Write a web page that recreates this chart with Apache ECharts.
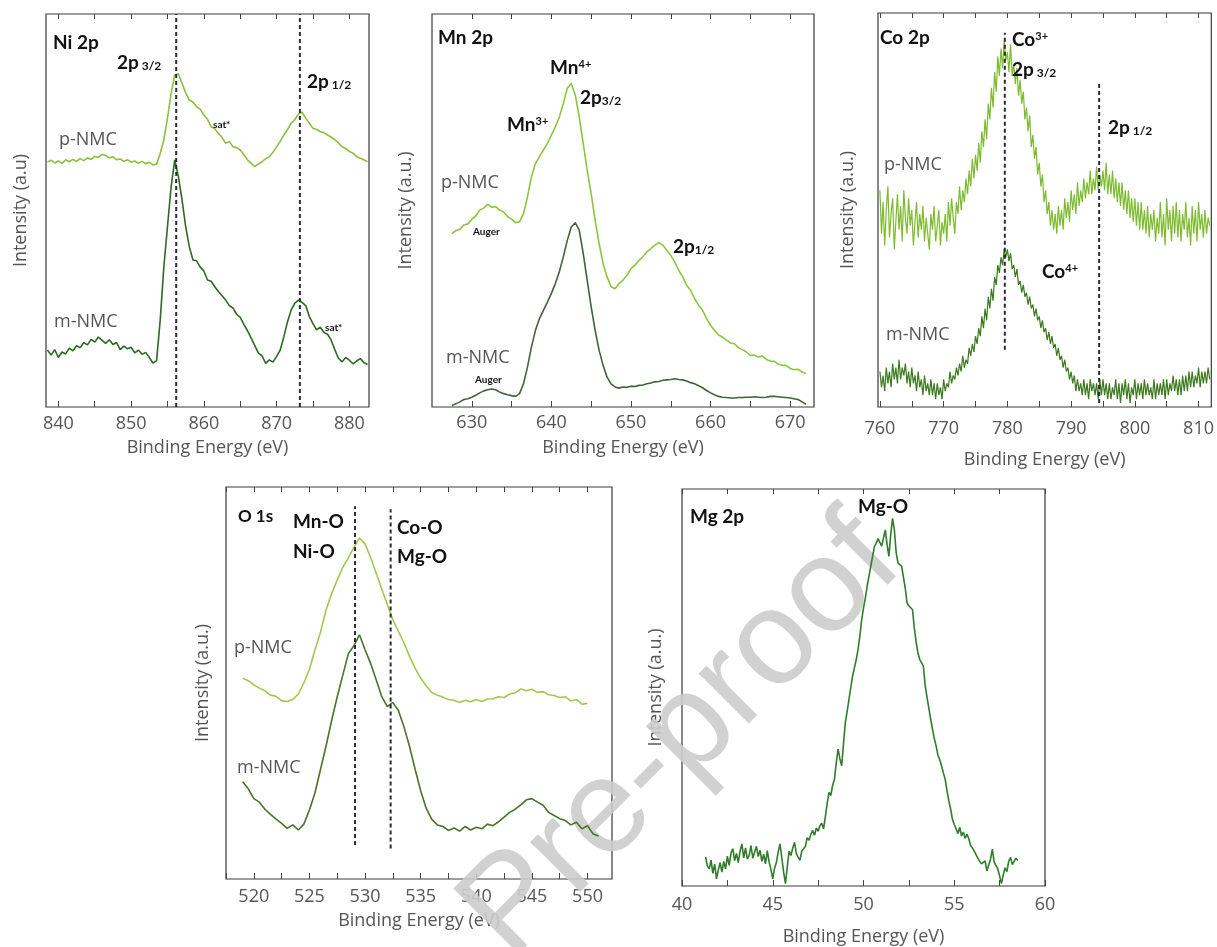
<!DOCTYPE html>
<html><head><meta charset="utf-8">
<script src="https://cdn.jsdelivr.net/npm/echarts/dist/echarts.min.js"></script>
<style>html,body{margin:0;padding:0;background:#fff}#c{width:1217px;height:947px}</style>
</head><body><div id="c"></div><script>
// ---------- DATA ----------
// Ni 2p (binding energy grid start/step in eV)
const niStart = 838.5, niStep = 0.5;
const niP = [62.3,62.8,62.1,62.6,62.0,62.9,62.4,63.0,62.5,63.2,62.7,63.4,63.0,63.8,63.5,64.3,64.0,63.4,63.7,62.9,63.1,62.5,62.9,62.3,62.6,62.0,62.5,61.9,62.3,61.6,61.8,
 64.5,68.0,73.5,79.8,84.5,84.8,82.4,80.0,78.1,77.6,76.4,75.8,74.3,73.2,71.3,70.8,69.6,68.6,67.1,67.6,66.2,66.0,65.4,64.2,62.9,62.0,61.2,61.8,62.4,63.2,63.7,64.8,66.2,67.6,69.2,70.6,72.2,73.1,74.6,75.0,73.5,72.2,70.9,70.6,70.1,69.8,69.2,68.7,68.0,67.2,66.2,65.8,65.0,64.6,63.7,63.3,62.9,62.4];
const niM = [14.5,13.2,14.6,12.6,14.0,13.5,15.0,14.3,15.6,15.1,16.4,15.8,17.2,16.5,17.8,17.0,16.2,17.1,15.9,16.4,14.6,15.5,14.8,15.2,13.8,14.5,13.4,13.9,12.6,11.2,11.8,
 22.1,35.7,45.9,56.1,62.9,58.6,52.7,45.9,40.8,37.4,37.2,35.6,34.6,32.3,32.0,30.6,29.4,28.3,27.2,25.8,25.2,23.6,22.8,21.0,19.4,17.5,15.6,13.7,13.0,11.1,12.0,11.4,12.9,14.5,17.9,21.7,24.7,26.4,27.2,26.6,25.8,23.0,21.2,19.6,20.3,19.0,18.5,17.0,14.6,12.4,11.5,12.6,11.9,11.0,11.7,12.3,11.3,10.8];
const niDash = [856.2, 873.2];
const niDashY = [[0,100],[0,100]];
const niLabels = [840,850,860,870,880];
const niMinor = [845,855,865,875];

// Mn 2p
const mnStart = 627.5, mnStep = 0.5;
const mnP = [44.1,44.9,45.2,46.3,46.6,47.8,48.6,50.1,50.6,51.6,50.8,51.0,50.1,49.6,48.4,47.8,46.9,47.1,49.2,53.5,58.6,62.0,63.7,65.4,67.1,69.2,71.3,73.8,77.2,81.1,82.3,79.4,73.8,67.1,60.3,54.3,47.5,41.6,36.5,33.1,30.6,30.1,31.4,32.3,33.5,35.2,36.1,37.3,38.2,39.5,40.3,41.2,41.8,41.2,39.9,38.6,36.9,34.8,33.1,31.0,29.7,27.6,25.9,24.6,22.5,20.8,19.5,18.3,17.8,17.0,16.3,16.1,15.1,14.6,14.0,13.1,13.2,12.7,13.0,12.1,11.7,11.6,10.9,10.6,10.6,9.8,9.5,9.6,8.9,8.5];
const mnM = [0.4,0.8,1.3,1.9,2.1,2.5,3.0,3.6,4.1,4.4,4.6,4.4,3.8,3.4,3.1,2.9,2.7,3.4,5.9,10.2,15.3,19.5,22.5,24.6,26.7,28.9,31.4,34.4,38.2,42.4,45.8,46.9,45.0,39.1,32.3,25.5,19.5,14.4,10.6,7.6,5.9,5.1,4.8,5.1,5.0,5.3,5.2,5.5,5.6,5.9,6.1,6.4,6.5,6.8,6.9,7.0,7.2,7.0,6.9,6.6,6.2,5.9,5.4,4.9,4.2,3.6,3.1,2.7,2.5,2.4,2.3,2.3,2.4,2.4,2.5,2.5,2.6,2.5,2.4,2.5,2.7,2.7,2.6,2.5,2.4,2.3,2.1,1.9,1.3,0.7];
const mnLabels = [630,640,650,660,670];
const mnMinor = [635,645,655,665];

// Co 2p
const coStart = 760, coStep = 0.25;
const coP = [
 55,44,52,41, 50,56,43,49, 53,40,47,54, 45,51,42,55, 48,44,53,46, 50,41,47,52, 43,49,45,51, 42,48,44,40,
 49,45,51,42, 46,50,41,47, 44,49,42,52, 46,53,48,44, 52,49,56,50, 55,52,58,54, 60,56,63,58, 64,60,67,62,
 70,66,73,68, 77,73,81,76, 85,80,89,84, 91,86,93,88, 90,85,92,84, 87,82,86,79, 83,77,80,73, 76,70,74,66,
 69,63,66,59, 62,56,59,52, 55,49,52,46, 50,45,49,44, 51,46,50,45, 53,48,52,47, 55,50,54,49, 57,51,55,52,
 58,53,57,54, 60,54,58,55, 61,55,59,56, 60,55,62,54, 59,54,60,53, 58,52,57,51, 57,50,55,49, 55,48,53,47,
 53,46,52,45, 52,45,50,44, 51,43,49,45, 50,42,48,44, 52,43,49,41, 53,45,50,42, 51,44,52,43, 50,42,49,45,
 52,43,48,41, 51,44,50,42, 52,45,49,43, 50,44,48,46];
const coM = [
 9,5,8,4, 10,6,9,5, 11,7,10,6, 12,7,10,8, 11,6,9,5, 10,6,8,4, 9,5,7,3, 8,4,6,3,
 7,3,6,2, 6,3,5,2, 7,4,6,5, 9,6,8,7, 10,8,11,9, 13,10,12,11, 15,13,16,14, 18,16,20,18,
 23,20,25,22, 28,25,30,27, 33,31,36,34, 38,36,40,38, 40,37,39,35, 36,33,35,31, 32,29,31,28, 29,26,28,25,
 26,23,25,22, 23,20,22,19, 20,17,19,16, 18,15,16,13, 15,12,13,10, 12,9,10,7, 9,6,8,4, 7,4,6,3,
 7,3,6,2, 7,4,6,3, 6,2,7,3, 7,3,6,2, 6,2,5,3, 7,2,6,1, 6,3,7,2, 6,1,5,3,
 7,2,6,3, 6,2,7,3, 6,3,5,2, 7,2,6,3, 6,3,7,2, 7,3,6,4, 8,4,7,3, 7,3,8,4,
 8,4,9,5, 9,5,8,6, 10,5,9,6, 9,6,10,7];
const coDash = [779.6, 794.4];
const coDashY = [[14.5,95],[1,82]];
const coLabels = [760,770,780,790,800,810];
const coMinor = [765,775,785,795,805];

// O 1s
const oStart = 519, oStep = 0.5;
const oP = [51.2,50.6,49.5,48.7,48.0,46.9,46.6,45.5,45.3,45.8,47.2,50.0,53.5,58.5,63.0,68.7,72.8,76.3,79.5,82.0,84.6,87.0,85.5,82.0,78.0,74.0,70.0,66.1,63.2,60.2,56.8,53.8,51.2,49.3,47.6,46.9,46.4,45.8,45.6,45.0,45.6,45.2,45.8,45.3,45.9,46.0,46.5,46.3,47.2,47.5,48.5,48.0,48.4,47.6,47.8,47.0,46.8,46.3,46.5,45.4,45.8,44.6,44.8];
const oM = [24.8,23.0,20.5,19.6,17.8,16.5,15.3,14.2,12.9,13.8,12.5,14.0,17.6,22.0,28.0,34.0,40.5,46.5,52.0,57.5,59.5,62.3,58.5,55.0,50.8,46.5,44.0,45.0,43.0,38.8,33.8,28.0,22.5,18.0,15.2,13.8,13.4,12.4,13.0,12.2,13.4,12.5,13.2,12.8,14.0,13.6,14.6,15.8,17.0,17.8,18.9,20.2,20.5,19.6,18.8,17.0,16.2,15.4,14.9,13.8,14.5,12.8,13.6,11.5,11.0];
const oDash = [529.1, 532.3];
const oDashY = [[8.7,95.1],[7.8,94.3]];
const oLabels = [520,525,530,535,540,545,550];
const oMinor = [517.5,522.5,527.5,532.5,537.5,542.5,547.5];

// Mg 2p
const mgStart = 41.3, mgStep = 0.1;
const mgI = [7.3,5.0,4.3,6.5,3.2,5.5,1.8,4.0,5.9,3.5,6.2,4.3,7.5,5.2,8.3,9.4,6.4,8.2,5.9,8.8,10.6,7.1,9.6,6.8,7.7,10.2,7.0,8.5,10.0,7.4,9.0,6.2,8.0,5.6,8.9,6.0,4.2,1.8,4.5,5.9,8.6,10.6,7.0,3.5,0.6,4.8,8.8,7.7,9.5,11.0,8.2,7.2,6.5,8.8,9.4,10.0,12.2,11.5,13.0,14.0,12.8,14.6,13.8,15.2,15.8,14.4,17.5,20.8,23.6,22.8,25.4,26.9,31.0,34.5,32.0,30.3,36.0,41.2,44.0,47.0,50.0,52.9,55.0,57.0,59.6,63.0,67.1,70.0,72.5,75.5,78.0,80.5,83.0,85.5,86.3,87.5,88.0,85.6,87.6,89.7,86.0,83.0,88.5,92.6,89.7,84.0,81.3,81.0,80.6,80.1,75.0,71.3,70.6,70.2,69.6,65.0,61.5,58.7,57.0,56.2,55.4,50.4,47.5,44.8,42.0,39.6,37.2,35.3,33.0,31.8,30.3,28.5,26.9,24.0,21.5,19.4,16.8,15.5,14.4,13.2,14.8,12.6,13.6,12.0,13.1,11.9,10.2,9.6,8.8,8.5,7.0,6.2,5.6,5.2,6.3,3.8,4.3,6.8,9.3,6.0,5.5,4.3,2.5,0.6,2.8,4.6,3.6,6.2,7.2,5.4,5.2,7.0,6.4];
const mgLabels = [40,45,50,55,60];
const mgMinor = [42.5,47.5,52.5,57.5];

// ---------- CHART ----------
const FONT = 'Lato';
const AFONT = 'Open Sans';
function pts(start, step, vals) { return vals.map((v, i) => [Math.round((start + i * step) * 100) / 100, v]); }

const grids = [
  {left: 46, top: 14, width: 323, height: 393},
  {left: 432, top: 14, width: 382, height: 393},
  {left: 878, top: 13, width: 334, height: 394},
  {left: 226, top: 487, width: 386, height: 392},
  {left: 682, top: 489, width: 363, height: 398}
].map(g => Object.assign({show: true, borderColor: '#3a3a3a', borderWidth: 1.2, backgroundColor: 'transparent'}, g));

function xAxes(gi, min, max, labels, minor, gap, margin) {
  const ticks = labels.concat(minor).filter(v => v >= min && v <= max);
  return [
    {type: 'value', gridIndex: gi, position: 'bottom', min, max,
     name: 'Binding Energy (eV)', nameLocation: 'middle', nameGap: gap,
     nameTextStyle: {fontFamily: AFONT, fontSize: 18, color: '#555'},
     axisLine: {show: false},
     axisTick: {inside: true, length: 6, customValues: ticks, lineStyle: {color: '#444', width: 1}},
     axisLabel: {customValues: labels, margin, fontFamily: AFONT, fontSize: 18, color: '#555'},
     splitLine: {show: false}},
    {type: 'value', gridIndex: gi, position: 'top', min, max,
     axisLine: {show: false},
     axisTick: {inside: true, length: 5, customValues: ticks, lineStyle: {color: '#444', width: 1}},
     axisLabel: {show: false}, splitLine: {show: false}}
  ];
}
function yAxis(gi, name, gap) {
  return {type: 'value', gridIndex: gi, min: 0, max: 100, name, nameLocation: 'middle', nameGap: gap,
    nameTextStyle: {fontFamily: AFONT, fontSize: 18, color: '#555'},
    axisLine: {show: false}, axisTick: {show: false}, axisLabel: {show: false}, splitLine: {show: false}};
}

const xAxis = [].concat(
  xAxes(0, 838.3, 882.7, niLabels, niMinor, 32, 8),
  xAxes(1, 625, 673, mnLabels, mnMinor, 32, 7),
  xAxes(2, 759.7, 812, coLabels, coMinor, 44, 13),
  xAxes(3, 517.5, 552.2, oLabels, oMinor, 33, 9),
  xAxes(4, 40, 60, mgLabels, mgMinor, 42, 10)
);
const yAxisArr = [
  yAxis(0, 'Intensity (a.u)', 16),
  yAxis(1, 'Intensity (a.u.)', 17),
  yAxis(2, 'Intensity (a.u.)', 21),
  yAxis(3, 'Intensity (a.u.)', 14),
  yAxis(4, 'Intensity (a.u.)', 17)
];

function line(gi, data, color, width) {
  return {type: 'line', xAxisIndex: gi * 2, yAxisIndex: gi, data, showSymbol: false, symbol: 'none',
    silent: true, animation: false, lineStyle: {color, width: width || 1.6}, z: 3};
}
function dashes(gi, xs, ys) {
  return xs.map((x, k) => ({type: 'line', xAxisIndex: gi * 2, yAxisIndex: gi,
    data: [[x, ys[k][0]], [x, ys[k][1]]], showSymbol: false, symbol: 'none', silent: true, animation: false,
    lineStyle: {color: '#2b2b3b', width: 2, type: [4, 3]}, z: 4}));
}

const series = [
  line(0, pts(niStart, niStep, niP), '#88c23a'),
  line(0, pts(niStart, niStep, niM), '#2c6b1f'),
  ...dashes(0, niDash, niDashY),
  line(1, pts(mnStart, mnStep, mnP), '#8cc63f'),
  line(1, pts(mnStart, mnStep, mnM), '#41633a'),
  line(2, pts(coStart, coStep, coP), '#7dbb2e', 1.2),
  line(2, pts(coStart, coStep, coM), '#3c7a1e', 1.2),
  ...dashes(2, coDash, coDashY),
  line(3, pts(oStart, oStep, oP), '#9dcb4e'),
  line(3, pts(oStart, oStep, oM), '#4a7428'),
  ...dashes(3, oDash, oDashY),
  line(4, pts(mgStart, mgStep, mgI), '#2f7d2a', 1.6)
];

const rich = {
  b: {fontFamily: FONT, fontWeight: 'bold', fontSize: 19, fill: '#111'},
  sub: {fontFamily: FONT, fontWeight: 'bold', fontSize: 12, fill: '#111', verticalAlign: 'bottom'},
  sup: {fontFamily: FONT, fontWeight: 'bold', fontSize: 11, fill: '#111', verticalAlign: 'top'},
  s: {fontFamily: AFONT, fontSize: 18, fill: '#555'},
  t: {fontFamily: FONT, fontWeight: 'bold', fontSize: 10, fill: '#111'},
  o: {fontFamily: FONT, fontWeight: 'bold', fontSize: 17, fill: '#111'}
};
function T(x, y, text) {
  return {type: 'text', x, y, z: 100, silent: true,
    style: {text, rich, align: 'left', textAlign: 'left', verticalAlign: 'middle', textVerticalAlign: 'middle'}};
}
const graphic = [
  {type: 'text', x: 682, y: 738, rotation: Math.PI / 4, z: 1, silent: true,
   style: {text: 'Pre-proof', font: '134px "Liberation Sans"', fill: '#cccccc', opacity: 0.9,
     align: 'center', textAlign: 'center', verticalAlign: 'middle', textVerticalAlign: 'middle'}},
  // Ni
  T(53, 43, '{b|Ni 2p}'),
  T(117, 63, '{b|2p}{sub| 3/2}'),
  T(307, 82, '{b|2p}{sub| 1/2}'),
  T(213, 125, '{t|sat*}'),
  T(59, 140, '{s|p-NMC}'),
  T(54, 322, '{s|m-NMC}'),
  T(325, 328, '{t|sat*}'),
  // Mn
  T(438, 38, '{b|Mn 2p}'),
  T(550, 68, '{b|Mn}{sup|4+}'),
  T(580, 98, '{b|2p}{sub|3/2}'),
  T(507, 125, '{b|Mn}{sup|3+}'),
  T(441, 183, '{s|p-NMC}'),
  T(473, 232, '{t|Auger}'),
  T(673, 247, '{b|2p}{sub|1/2}'),
  T(446, 358, '{s|m-NMC}'),
  T(475, 380, '{t|Auger}'),
  // Co
  T(880, 38, '{b|Co 2p}'),
  T(1012, 40, '{b|Co}{sup|3+}'),
  T(1012, 70, '{b|2p}{sub| 3/2}'),
  T(1108, 128, '{b|2p}{sub| 1/2}'),
  T(884, 165, '{s|p-NMC}'),
  T(1042, 272, '{b|Co}{sup|4+}'),
  T(886, 335, '{s|m-NMC}'),
  // O
  T(238, 517, '{o|O 1s}'),
  T(293, 522, '{b|Mn-O}'),
  T(293, 552, '{b|Ni-O}'),
  T(397, 528, '{b|Co-O}'),
  T(397, 557, '{b|Mg-O}'),
  T(234, 648, '{s|p-NMC}'),
  T(237, 768, '{s|m-NMC}'),
  // Mg
  T(690, 517, '{b|Mg 2p}'),
  T(858, 507, '{b|Mg-O}')
];

const chart = echarts.init(document.getElementById('c'), null, {renderer: 'canvas', width: 1217, height: 947});
chart.setOption({
  backgroundColor: '#fff',
  animation: false,
  grid: grids,
  xAxis,
  yAxis: yAxisArr,
  series,
  graphic
});
</script></body></html>
